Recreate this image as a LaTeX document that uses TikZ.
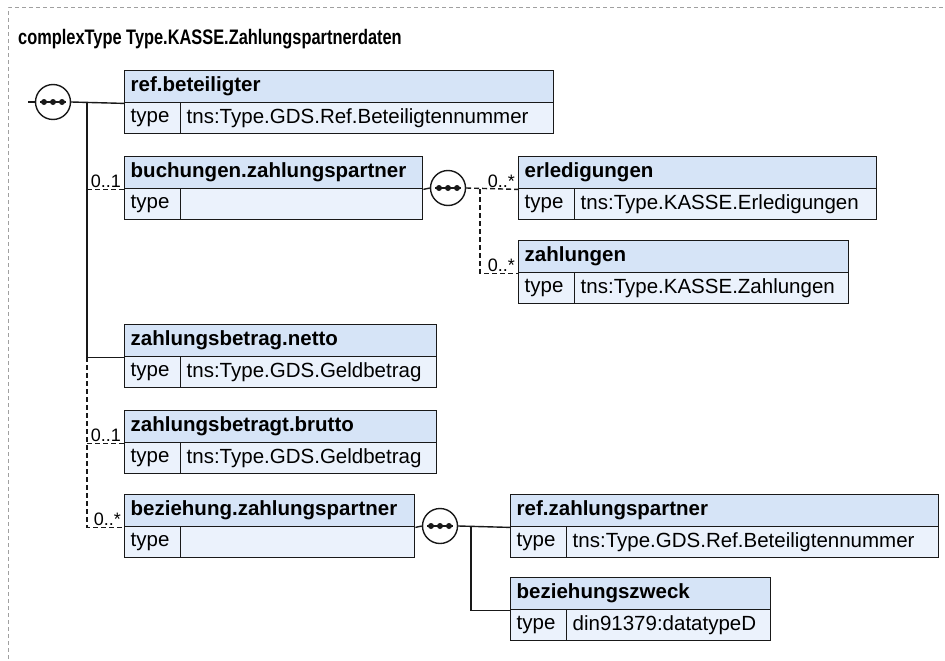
\documentclass[tikz,border=0pt]{standalone}
\usepackage{fontspec}
\usepackage{graphicx}
\setmainfont{Liberation Sans}
\usetikzlibrary{calc}
\definecolor{hdrfill}{RGB}{214,228,247}
\definecolor{typfill}{RGB}{235,242,252}
\definecolor{framegray}{RGB}{160,160,160}
\definecolor{boxline}{RGB}{25,25,25}
\newcommand{\xelem}[7]{% name, x, ytop, text width of header, title, text width of value, value
  \node[hdr, text width=#4pt, minimum height=32pt] (#1h) at (#2,#3) {#5};
  \node[typ, text width=44pt, minimum height=31pt] (#1t) at (#2,#3+32) {type};
  \node[typ, text width=#6pt, minimum height=31pt] (#1v) at (#2+56,#3+32) {#7};
}
\begin{document}
\begin{tikzpicture}[x=1pt,y=-1pt,
  cell/.style={draw=boxline, line width=1.4pt, inner xsep=6pt, inner ysep=0pt,
    anchor=north west, align=left, font=\fontsize{20.5}{24}\selectfont},
  hdr/.style={cell, fill=hdrfill, font=\bfseries\fontsize{20.5}{24}\selectfont},
  typ/.style={cell, fill=typfill},
  conn/.style={draw=boxline, line width=1.4pt},
  opt/.style={conn, dash pattern=on 5pt off 3pt},
  mult/.style={font=\fontsize{18}{20}\selectfont, inner sep=1pt, anchor=south east},
  seq/.style={circle, draw=boxline, fill=white, line width=1.4pt, minimum size=35pt, inner sep=0pt,
    path picture={
      \draw[boxline, line width=1.4pt] ($(path picture bounding box.center)+(-13,0)$) -- ($(path picture bounding box.center)+(13,0)$);
      \foreach \dx in {-9,0,9} \fill[boxline] ($(path picture bounding box.center)+(\dx,0)$) circle (3);
    }}
]
\useasboundingbox (0,0) rectangle (945,661);
% frame
\draw[framegray, line width=1pt, dash pattern=on 4pt off 3pt] (8,680) -- (8,8) -- (960,8);
\node[anchor=base west, inner sep=0pt, font=\bfseries\fontsize{21}{24}\selectfont] (title) at (18,45) {\scalebox{0.78}[1]{complexType Type.KASSE.Zahlungspartnerdaten}};

% elements
\xelem{b1}{124}{70}{417}{ref.beteiligter}{361}{tns:Type.GDS.Ref.Beteiligtennummer}
\xelem{b2}{124}{156}{286}{buchungen.zahlungspartner}{230}{}
\xelem{b3}{518}{156}{346}{erledigungen}{290}{tns:Type.KASSE.Erledigungen}
\xelem{b4}{518}{240}{318}{zahlungen}{262}{tns:Type.KASSE.Zahlungen}
\xelem{b5}{124}{324}{300}{zahlungsbetrag.netto}{244}{tns:Type.GDS.Geldbetrag}
\xelem{b6}{124}{410}{300}{zahlungsbetragt.brutto}{244}{tns:Type.GDS.Geldbetrag}
\xelem{b7}{124}{494}{278}{beziehung.zahlungspartner}{222}{}
\xelem{b8}{510}{494}{416}{ref.zahlungspartner}{360}{tns:Type.GDS.Ref.Beteiligtennummer}
\xelem{b9}{510}{577}{248}{beziehungszweck}{192}{din91379:datatypeD}

% sequence compositors
\node[seq] (s1) at (53,102) {};
\node[seq] (s2) at (448,188) {};
\node[seq] (s3) at (440,526) {};

\coordinate (in1) at (28,102);
\coordinate (tr) at (87,0);
\coordinate (br2) at (480,0);
\coordinate (br3) at (471,0);

% connectors
\draw[conn] (in1) -- (s1.west);
\draw[conn] (s1.east) -- (b1h.south west);
\draw[conn] (tr |- b1h.south west) -- (tr |- b5h.south west) -- (b5h.south west);
\draw[opt] (tr |- b2h.south west) -- (b2h.south west);
\draw[opt] (tr |- b5h.south west) -- (tr |- b7h.south west) -- (b7h.south west);
\draw[opt] (tr |- b6h.south west) -- (b6h.south west);

\draw[conn] (b2h.south east) -- (s2.west);
\draw[opt] (s2.east) -- (b3h.south west);
\draw[opt] (br2 |- b3h.south west) -- (br2 |- b4h.south west) -- (b4h.south west);

\draw[conn] (b7h.south east) -- (s3.west);
\draw[conn] (s3.east) -- (b8h.south west);
\draw[conn] (br3 |- b8h.south west) -- (br3 |- b9h.south west) -- (b9h.south west);

% multiplicities
\node[mult] (m2) at ($(b2h.south west)+(-2,-1)$) {0..1};
\node[mult] (m6) at ($(b6h.south west)+(-2,-1)$) {0..1};
\node[mult] (m7) at ($(b7h.south west)+(-2,-1)$) {0..*};
\node[mult] (m3) at ($(b3h.south west)+(-2,-1)$) {0..*};
\node[mult] (m4) at ($(b4h.south west)+(-2,-1)$) {0..*};
\end{tikzpicture}
\end{document}
